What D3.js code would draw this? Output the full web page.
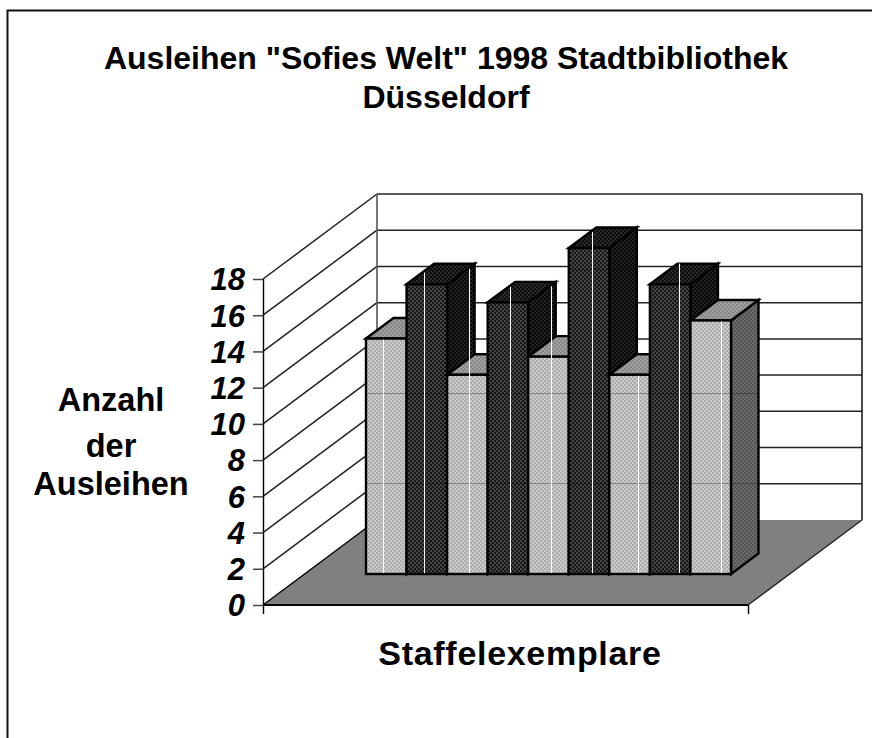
<!DOCTYPE html>
<html><head><meta charset="utf-8">
<script src="https://cdn.jsdelivr.net/npm/d3@7"></script>
<style>html,body{margin:0;padding:0;background:#fff}svg{display:block}text{font-family:"Liberation Sans",Arial,sans-serif;font-weight:bold;fill:#000}</style>
</head><body><script>
const titleLines = ['Ausleihen "Sofies Welt" 1998 Stadtbibliothek', 'Düsseldorf'];
const yAxisLines = ['Anzahl', 'der', 'Ausleihen'];
const xAxisTitle = 'Staffelexemplare';
const exemplare = [1, 2, 3, 4, 5, 6, 7, 8, 9];
const ausleihen = [13, 16, 11, 15, 12, 18, 11, 16, 14];
const yTicks = [0, 2, 4, 6, 8, 10, 12, 14, 16, 18];

const W = 872, H = 738;
const svg = d3.select('body').append('svg').attr('width', W).attr('height', H);
const defs = svg.append('defs');

function pattern(id, bg, fg, dot) {
  const p = defs.append('pattern').attr('id', id).attr('patternUnits', 'userSpaceOnUse').attr('width', 4).attr('height', 4);
  p.append('rect').attr('width', 4).attr('height', 4).attr('fill', bg);
  p.append('rect').attr('x', 0).attr('y', 0).attr('width', 2).attr('height', 2).attr('fill', fg);
  p.append('rect').attr('x', 2).attr('y', 2).attr('width', 2).attr('height', 2).attr('fill', fg);
  if (dot) {
    p.append('rect').attr('x', 1).attr('y', 3).attr('width', 1).attr('height', 1).attr('fill', dot);
    p.append('rect').attr('x', 3).attr('y', 1).attr('width', 1).attr('height', 1).attr('fill', dot);
  }
}
pattern('darkFront', '#1c1c1c', '#444', '#0a0a0a');
pattern('darkTop', '#111', '#2a2a2a', '#000');
pattern('darkSide', '#0a0a0a', '#222', '#000');
pattern('lightFront', '#cbcbcb', '#adadad');
pattern('lightTop', '#a0a0a0', '#888');
pattern('lightSide', '#6c6c6c', '#555');

const floorW = 485, wallDx = 114, wallDy = -85, barDx = 27.5, barDy = -20.5;
const x0 = 263;
const yWall = d3.scaleLinear().domain([0, 18]).range([605, 279]);
const yBar = d3.scaleLinear().domain([0, 18]).range([574, 248]);
const xBar = d3.scaleBand().domain(exemplare).range([366, 731]);
const bw = xBar.bandwidth();

// chart frame
svg.append('path').attr('d', `M7.5,${H}V10.5H${W}`).attr('fill', 'none').attr('stroke', '#111').attr('stroke-width', 2);

// back-wall grid and side-wall grid
const grid = svg.append('g').attr('fill', 'none').attr('stroke', '#222').attr('stroke-width', 1.5);
grid.selectAll('.back').data(yTicks.slice(1)).join('line').attr('class', 'back')
  .attr('x1', x0 + wallDx).attr('x2', x0 + wallDx + floorW)
  .attr('y1', d => yWall(d) + wallDy).attr('y2', d => yWall(d) + wallDy);
grid.selectAll('.side').data(yTicks.slice(1)).join('line').attr('class', 'side')
  .attr('x1', x0).attr('x2', x0 + wallDx)
  .attr('y1', d => yWall(d)).attr('y2', d => yWall(d) + wallDy);
grid.append('line').attr('x1', x0 + wallDx).attr('x2', x0 + wallDx).attr('y1', yWall(18) + wallDy).attr('y2', yWall(0) + wallDy).attr('stroke', '#555').attr('stroke-width', 1.6);
grid.append('line').attr('x1', x0 + wallDx + floorW).attr('x2', x0 + wallDx + floorW).attr('y1', yWall(18) + wallDy).attr('y2', yWall(0) + wallDy).attr('stroke', '#111');

// floor
svg.append('path')
  .attr('d', `M${x0},${yWall(0)}L${x0 + wallDx},${yWall(0) + wallDy}H${x0 + wallDx + floorW}L${x0 + floorW},${yWall(0)}Z`)
  .attr('fill', '#808080').attr('stroke', 'none');
svg.append('line').attr('x1', x0).attr('y1', yWall(0)).attr('x2', x0 + floorW).attr('y2', yWall(0)).attr('stroke', '#000').attr('stroke-width', 2);
svg.append('line').attr('x1', x0).attr('y1', yWall(0)).attr('x2', x0 + wallDx).attr('y2', yWall(0) + wallDy).attr('stroke', '#000').attr('stroke-width', 1.4);
svg.append('line').attr('x1', x0 + floorW).attr('y1', yWall(0)).attr('x2', x0 + floorW + wallDx).attr('y2', yWall(0) + wallDy).attr('stroke', '#222').attr('stroke-width', 1.4);

// y axis
const yAxis = d3.axisLeft(yWall).tickValues(yTicks).tickSize(10).tickPadding(8).tickFormat(d3.format('d'));
const ya = svg.append('g').attr('transform', `translate(${x0},0)`).call(yAxis);
ya.select('.domain').attr('stroke', '#000').attr('stroke-width', 1.4).attr('d', `M0.5,${yWall(18)}V${yWall(0) + 9}`);
ya.selectAll('.tick line').attr('stroke', '#444').attr('stroke-width', 1.5);
ya.selectAll('.tick text').style('font-size', '31px').style('font-style', 'italic').style('font-weight', 'bold').style('font-family', '"Liberation Sans",Arial,sans-serif').attr('fill', '#000').attr('dy', '0.35em');
svg.append('line').attr('x1', x0 + floorW + 0.5).attr('x2', x0 + floorW + 0.5).attr('y1', yWall(0)).attr('y2', yWall(0) + 9).attr('stroke', '#000').attr('stroke-width', 1.4);

// bars
const clipIds = defs.append('clipPath').attr('id', 'barsClip');
const bars = svg.append('g');
exemplare.forEach((c, i) => {
  const v = ausleihen[i], x = xBar(c), y = yBar(v), b = yBar(0), kind = i % 2 ? 'dark' : 'light';
  const g = bars.append('g').attr('stroke', '#000').attr('stroke-width', 2.4).attr('stroke-linejoin', 'miter');
  const side = `M${x + bw},${y}L${x + bw + barDx},${y + barDy}V${b + barDy}L${x + bw},${b}Z`;
  const top = `M${x},${y}L${x + barDx},${y + barDy}H${x + bw + barDx}L${x + bw},${y}Z`;
  g.append('path').attr('d', side).attr('fill', `url(#${kind}Side)`);
  g.append('path').attr('d', top).attr('fill', `url(#${kind}Top)`);
  g.append('rect').attr('x', x).attr('y', y).attr('width', bw).attr('height', b - y).attr('fill', `url(#${kind}Front)`);
  clipIds.append('path').attr('d', `M${x},${b}V${y}L${x + barDx},${y + barDy}H${x + bw + barDx}V${b + barDy}L${x + bw},${b}Z`);
});

// faint grid seams seen through the bars
svg.append('g').attr('clip-path', 'url(#barsClip)').selectAll('line').data([5, 10, 16.85]).join('line')
  .attr('x1', xBar(1)).attr('x2', xBar(9) + bw + barDx)
  .attr('y1', d => Math.round(yBar(d)) + 0.5).attr('y2', d => Math.round(yBar(d)) + 0.5)
  .attr('stroke', '#000').attr('stroke-opacity', 0.3).attr('stroke-width', 1);

// white vertical seams
const seamOffset = [17, 17, 22, 22, 23, 23, 29, 29, 31];
const slope = barDy / barDx;
const seamX = (c, i) => Math.round(xBar(c) + seamOffset[i]) + 0.5;
svg.append('g').selectAll('line').data(exemplare).join('line')
  .attr('x1', seamX).attr('x2', seamX)
  .attr('y1', yBar(0) - 1)
  .attr('y2', (c, i) => {
    const off = seamOffset[i];
    if (i % 2) return yBar(ausleihen[i]) + slope * off + 1;
    if (i > 0 && off < barDx) return yBar(ausleihen[i - 1]) + slope * off + 1;
    return yBar(ausleihen[i]) + 1;
  })
  .attr('stroke', '#fff').attr('stroke-width', 1);

// titles
const title = svg.append('g').attr('text-anchor', 'middle').style('font-size', '32px');
title.selectAll('text').data(titleLines).join('text').attr('x', 446).attr('y', (d, i) => 69 + i * 39).text(d => d);
const yl = svg.append('g').attr('text-anchor', 'middle').style('font-size', '32.5px');
const ylBase = [411, 457, 495];
yl.selectAll('text').data(yAxisLines).join('text').attr('x', 111).attr('y', (d, i) => ylBase[i]).text(d => d);
svg.append('text').attr('x', 520).attr('y', 665).attr('text-anchor', 'middle').style('font-size', '34px').style('letter-spacing', '0.7px').text(xAxisTitle);
</script></body></html>
